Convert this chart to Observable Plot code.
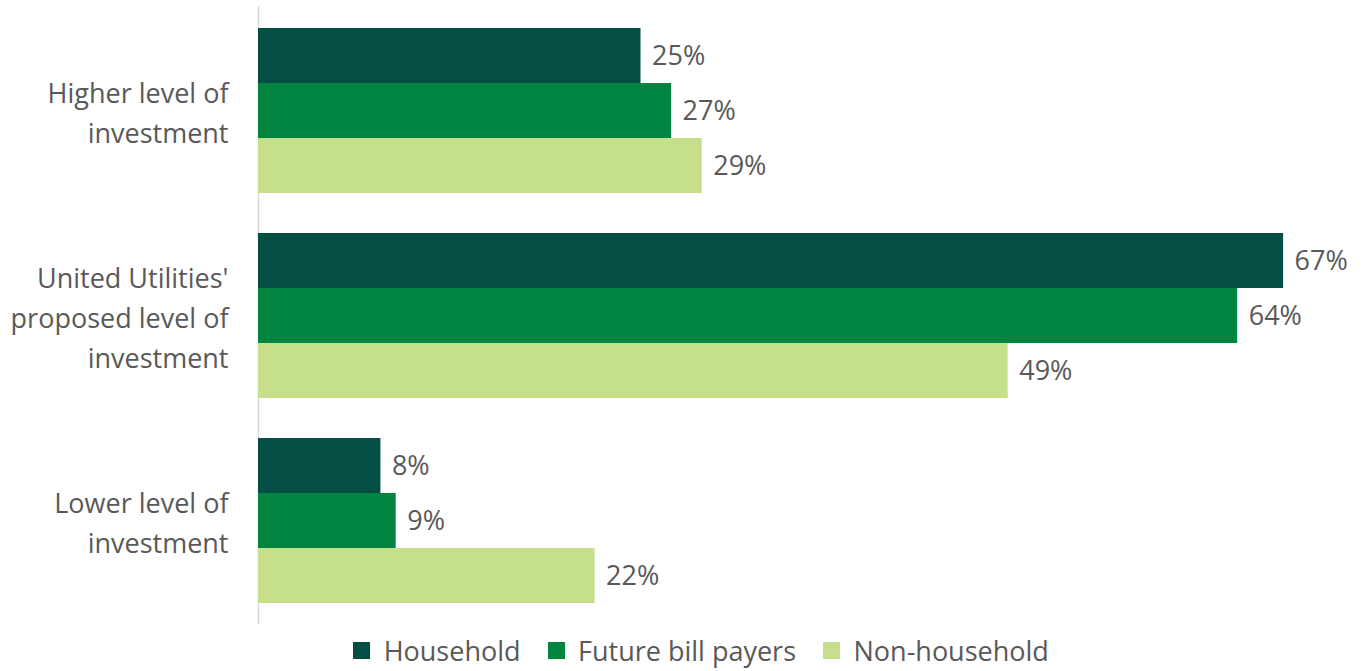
<!DOCTYPE html>
<html>
<head>
<meta charset="utf-8">
<script src="https://cdn.jsdelivr.net/npm/d3@7"></script>
<script src="https://cdn.jsdelivr.net/npm/@observablehq/plot@0.6"></script>
<style>
  body { margin: 0; background: #fff; font-family: "Open Sans", sans-serif; }
  #chart svg { display: block; }
  #legend { margin-top: 2px; padding-left: 66px; }
</style>
</head>
<body>
<div id="chart"></div>
<div id="legend"></div>
<script>
const categories = [
  "Higher level of\ninvestment",
  "United Utilities'\nproposed level of\ninvestment",
  "Lower level of\ninvestment"
];
const series = ["Household", "Future bill payers", "Non-household"];
const household = [25, 67, 8];
const futureBillPayers = [27, 64, 9];
const nonHousehold = [29, 49, 22];
const colors = ["#034f43", "#00843f", "#c5df8b"];

const seriesValues = [household, futureBillPayers, nonHousehold];
const data = [];
categories.forEach((cat, i) => {
  series.forEach((s, j) => {
    data.push({cat, series: s, value: seriesValues[j][i]});
  });
});

const textColor = "#595959";

const chart = Plot.plot({
  width: 1363,
  height: 630,
  marginLeft: 258,
  marginRight: 34,
  marginTop: 5,
  marginBottom: 5,
  style: {fontFamily: "Open Sans, sans-serif", fontSize: "27px", color: textColor, background: "#fff"},
  x: {domain: [0, 70], axis: null},
  y: {domain: series, padding: 0, axis: null},
  fy: {domain: categories, paddingInner: 0.19, paddingOuter: 0.107, label: null},
  color: {domain: series, range: colors},
  marks: [
    Plot.ruleX([0], {stroke: "#d9d9d9", strokeWidth: 1.5, insetTop: -21, insetBottom: -21}),
    Plot.barX(data, {fy: "cat", y: "series", x: "value", fill: "series"}),
    Plot.text(data, {
      fy: "cat", y: "series", x: "value",
      text: d => d.value + "%",
      textAnchor: "start", dx: 11, fill: textColor, fontSize: 27
    }),
    Plot.axisFy({
      anchor: "left",
      tickSize: 0, tickPadding: 30, fontSize: 27, lineHeight: 1.48,
      fill: textColor, label: null
    })
  ]
});
document.getElementById("chart").appendChild(chart);

const legend = Plot.legend({
  color: {type: "ordinal", domain: series, range: colors},
  legend: "swatches",
  swatchSize: 17,
  style: {fontFamily: "Open Sans, sans-serif", fontSize: "27px", color: textColor, justifyContent: "center", margin: 0}
});
document.getElementById("legend").appendChild(legend);
</script>
</body>
</html>
